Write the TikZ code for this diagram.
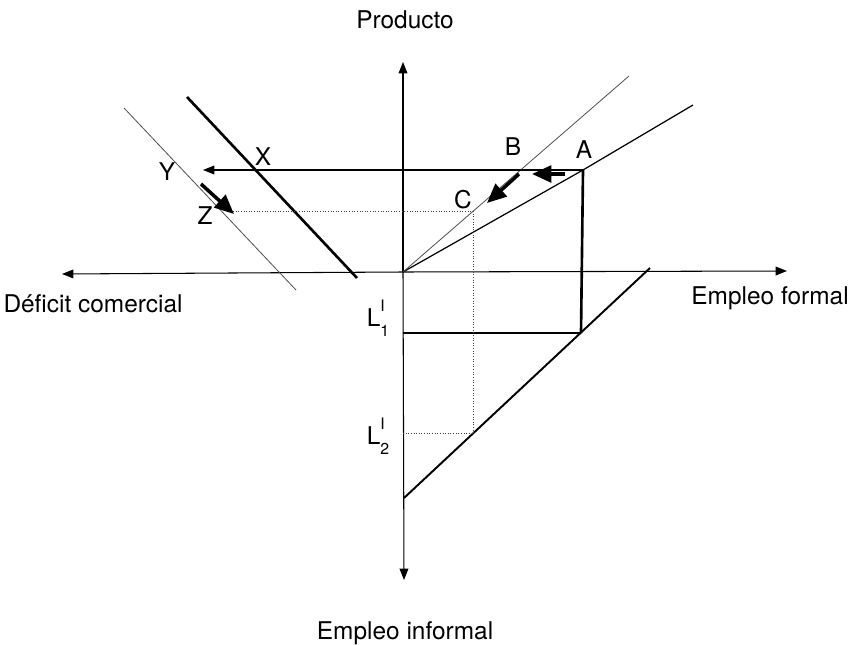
\documentclass[tikz,border=0pt]{standalone}
\usepackage{fontspec}
\setmainfont{TeX Gyre Heros}
\usepackage{tikz}
\usetikzlibrary{arrows.meta,calc}
\newcommand{\Linf}[1]{L\rlap{\raisebox{0.62em}{\fontsize{9}{9}\selectfont I}}\raisebox{-0.4em}{\fontsize{9}{9}\selectfont #1}}

\begin{document}
\begin{tikzpicture}[
    x=0.02cm, y=-0.02cm,
    axis/.style={-{Triangle[length=6.5pt,width=5pt]}, line width=0.6pt},
    ray/.style={line width=0.7pt},
    faint/.style={line width=0.45pt, black!70},
    bold/.style={line width=1.5pt},
    guide/.style={densely dotted, line width=0.5pt, black!75},
    move/.style={-{Triangle[length=11pt,width=9.5pt]}, line width=2pt},
    lbl/.style={font=\fontsize{13.9}{16}\selectfont, inner sep=1pt}
  ]
    \useasboundingbox (0,0) rectangle (851,645);
    \coordinate (O) at (403,272);
    \coordinate (top) at (403,62);
    \coordinate (bot) at (404,580);
    \coordinate (left) at (62,274);
    \coordinate (right) at (787,271);
    \draw[axis] (O) -- (top);
    \draw[axis] (O) -- (bot);
    \draw[axis] (O) -- (left);
    \draw[axis] (O) -- (right);
    \node[lbl] (prod) at (405,20) {Producto};
    \node[lbl] (formal) at (770,298) {Empleo formal};
    \node[lbl] (deficit) at (93,304) {Déficit comercial};
    \node[lbl] (informal) at (405,633) {Empleo informal};

    \coordinate (A) at (583,170);
    \coordinate (rayA) at (693,105);
    \coordinate (rayB) at (629,76);
    \coordinate (C) at (473,211);
    \coordinate (L1p) at (581,333);
    \coordinate (L1a) at (403,333);
    \coordinate (L2p) at (473,433);
    \coordinate (L2a) at (403,433);
    \coordinate (diagTop) at (650,268);
    \coordinate (diagBot) at (404,498);
    \coordinate (Xtop) at (187,97);
    \coordinate (Xbot) at (357,278);
    \coordinate (Ytop) at (124,108);
    \coordinate (Ybot) at (296,290);
    \coordinate (Xend) at (203,170);
    \coordinate (Zend) at (233,211);

    \draw[ray] (O) -- (A) -- (rayA);
    \draw[faint] (O) -- (rayB);
    \draw[bold] (Xtop) -- (Xbot);
    \draw[faint] (Ytop) -- (Ybot);
    \draw[axis] (A) -- (Xend);
    \draw[bold] (A) -- (L1p);
    \draw[bold] (L1a) -- (L1p);
    \draw[ray, line width=1.1pt] (diagTop) -- (diagBot);
    \draw[guide] (Zend) -- (C);
    \draw[guide] (C) -- (L2p);
    \draw[guide] (L2a) -- (L2p);

    \draw[move] (565,174) -- (532,174);
    \draw[move] (519,174) -- (487,203);
    \draw[move] (201,184) -- (234,214);

    \node[lbl] (lA) at (584,150) {A};
    \node[lbl] (lB) at (513,147) {B};
    \node[lbl] (lC) at (463,200) {C};
    \node[lbl] (lX) at (263,157) {X};
    \node[lbl] (lY) at (167,172) {Y};
    \node[lbl] (lZ) at (205,216) {Z};
    \node[lbl] (lL1) at (378,318) {\Linf{1}};
    \node[lbl] (lL2) at (378,436) {\Linf{2}};
  \end{tikzpicture}
\end{document}
